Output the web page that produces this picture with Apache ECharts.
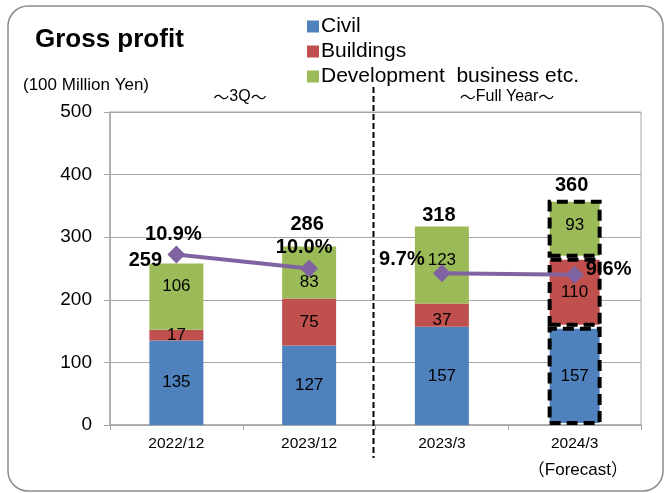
<!DOCTYPE html>
<html>
<head>
<meta charset="utf-8">
<script src="https://cdn.jsdelivr.net/npm/echarts@6/dist/echarts.min.js"></script>
<style>
  html, body { margin: 0; padding: 0; background: #fff; }
  #main { width: 667px; height: 493px; }
</style>
</head>
<body>
<div id="main"></div>
<script>
// data
var categories = ['2022/12', '2023/12', '2023/3', '2024/3'];
var civil = [135, 127, 157, 157];
var buildings = [17, 75, 37, 110];
var development = [106, 83, 123, 93];
var totals = [259, 286, 318, 360];
var margins = [10.9, 10.0, 9.7, 9.6];  // %
var yTicks = [0, 100, 200, 300, 400, 500];

var FONT = '"Liberation Sans", Arial, sans-serif';
var CJK = '"Noto Sans CJK JP", sans-serif';
var dashBox = { borderColor: '#000', borderWidth: 4, borderType: [11, 6] };

// label nudges, the original labels are not all centred / placed the same way
var civilOffsets = [[0, 0], [0, 0], [0, 0], [0, 0]];
var buildOffsets = [[0, 0], [0, 0], [0, 5], [0, 0]];
var devOffsets = [[0, -10], [0, 10], [0, -5], [0, -3]];
var totalOffsets = [[-31, -2], [-2, -21], [-3, -10], [-3, -14]];
var marginOffsets = [[-3, -20], [-5, -21], [-40, -14], [34, -5]];

function barData(arr, color, offs) {
  return arr.map(function (v, i) {
    var item = { value: v, label: { offset: offs[i] } };
    if (i == 3) item.itemStyle = Object.assign({ color: color }, dashBox);
    return item;
  });
}

function barSeries(name, arr, color, offs) {
  return {
    name: name,
    type: 'bar',
    stack: 'gp',
    barWidth: 54,
    yAxisIndex: 0,
    itemStyle: { color: color },
    label: { show: true, position: 'inside', color: '#000', fontSize: 17, fontFamily: FONT },
    data: barData(arr, color, offs)
  };
}

function marginSeries(idx) {
  return {
    type: 'line',
    yAxisIndex: 1,
    symbol: 'diamond',
    symbolSize: 18,
    z: 5,
    lineStyle: { color: '#8064A2', width: 4 },
    itemStyle: { color: '#8064A2' },
    data: margins.map(function (v, i) {
      if (idx.indexOf(i) < 0) return '-';
      return {
        value: v,
        label: {
          show: true, position: 'inside', offset: marginOffsets[i],
          formatter: v.toFixed(1) + '%', color: '#000', fontSize: 20, fontWeight: 'bold', fontFamily: FONT
        }
      };
    })
  };
}

var chart = echarts.init(document.getElementById('main'));

var tilde = { fontFamily: CJK, fontSize: 16, fill: '#000' };

var option = {
  backgroundColor: '#fff',
  animation: false,
  textStyle: { fontFamily: FONT },
  grid: { left: 110, right: 26, top: 112, bottom: 68, show: true, borderColor: '#A6A6A6', borderWidth: 1 },
  legend: {
    data: ['Civil', 'Buildings', 'Development  business etc.'],
    orient: 'vertical',
    left: 302,
    top: 11,
    itemWidth: 12,
    itemHeight: 12,
    itemGap: 4,
    icon: 'rect',
    textStyle: { fontSize: 21, color: '#000', fontFamily: FONT, padding: [0, 0, 0, -3] }
  },
  xAxis: {
    type: 'category',
    data: categories,
    axisLine: { lineStyle: { color: '#A6A6A6', width: 1.5 } },
    axisTick: { show: true, length: 5, lineStyle: { color: '#A6A6A6' } },
    axisLabel: { color: '#000', fontSize: 15.5, margin: 11, fontFamily: FONT }
  },
  yAxis: [{
    type: 'value',
    min: yTicks[0],
    max: yTicks[yTicks.length - 1],
    interval: 100,
    axisLine: { show: true, lineStyle: { color: '#A6A6A6', width: 1.5 } },
    axisTick: { show: true, length: 6, lineStyle: { color: '#A6A6A6' } },
    axisLabel: { color: '#000', fontSize: 19, margin: 18, fontFamily: FONT },
    splitLine: { lineStyle: { color: '#A6A6A6', width: 1 } }
  }, {
    type: 'value', min: 0, max: 20, show: false, splitLine: { show: false }
  }],
  series: [
    barSeries('Civil', civil, '#4F81BD', civilOffsets),
    barSeries('Buildings', buildings, '#C0504D', buildOffsets),
    barSeries('Development  business etc.', development, '#9BBB59', devOffsets),
    {
      type: 'scatter',
      yAxisIndex: 0,
      symbolSize: 0,
      z: 6,
      itemStyle: { opacity: 1 },
      data: totals.map(function (v, i) {
        return {
          value: v,
          label: {
            show: true, position: 'inside', offset: totalOffsets[i], formatter: String(v),
            color: '#000', opacity: 1, fontSize: 20, fontWeight: 'bold', fontFamily: FONT
          }
        };
      })
    },
    marginSeries([0, 1]),
    marginSeries([2, 3])
  ],
  graphic: [
    {
      type: 'rect',
      shape: { x: 8, y: 6, width: 655, height: 485, r: 20 },
      style: { fill: null, stroke: '#8C8C8C', lineWidth: 1.5 },
      z: -1
    },
    {
      type: 'text', left: 35, top: 27,
      style: { text: 'Gross profit', font: 'bold 26px ' + FONT, fill: '#000' }
    },
    {
      type: 'text', left: 23, top: 77,
      style: { text: '(100 Million Yen)', font: '17px ' + FONT, fill: '#000' }
    },
    {
      type: 'text', x: 240, y: 97,
      style: {
        text: '{t|～}3Q{t|～}', font: '16px ' + FONT, fill: '#000', align: 'center', verticalAlign: 'middle',
        rich: { t: tilde }
      }
    },
    {
      type: 'text', x: 507, y: 97,
      style: {
        text: '{t|～}Full Year{t|～}', font: '16px ' + FONT, fill: '#000', align: 'center', verticalAlign: 'middle',
        rich: { t: tilde }
      }
    },
    {
      type: 'text', x: 628, y: 470,
      style: {
        text: '{t|（}Forecast{t|）}', font: '17px ' + FONT, fill: '#000', align: 'right', verticalAlign: 'middle',
        rich: { t: { fontFamily: CJK, fontSize: 17, fill: '#000' } }
      }
    }
  ]
};

chart.setOption(option);

// dashed separator between the 3Q and full-year groups
var xa = chart.convertToPixel({ xAxisIndex: 0 }, categories[1]);
var xb = chart.convertToPixel({ xAxisIndex: 0 }, categories[2]);
var sepX = Math.round((xa + xb) / 2) - 2.5;
chart.setOption({
  graphic: option.graphic.concat([{
    type: 'line',
    shape: { x1: sepX, y1: 87, x2: sepX, y2: 458 },
    style: { stroke: '#000', lineWidth: 2, lineDash: [6, 3] },
    z: 10
  }])
});
</script>
</body>
</html>
